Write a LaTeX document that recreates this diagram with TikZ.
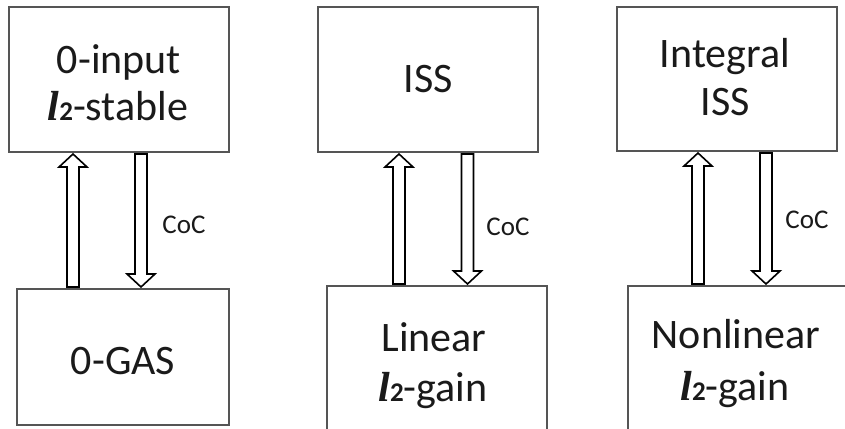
\documentclass[tikz,border=0pt]{standalone}
\usepackage{fontspec}
\setmainfont{Carlito}
\newfontfamily\lserif{Liberation Serif}
\usetikzlibrary{calc}
\definecolor{boxgray}{HTML}{555555}
\definecolor{txt}{HTML}{1A1A1A}
\newcommand\ltwo{{\lserif\bfseries\itshape l}{\fontsize{27}{27}\selectfont\bfseries 2}}
\newcommand\blockarrow[2]{%
  \draw[blockarr] let \p1=(#1), \p2=(#2), \p3=($(#2)!13pt!(#1)$) in
  (\x1-6pt,\y1) -- (\x1-6pt,\y3) -- (\x1-14pt,\y3) -- (\x1,\y2) --
  (\x1+14pt,\y3) -- (\x1+6pt,\y3) -- (\x1+6pt,\y1) -- cycle;}
\tikzset{
  box/.style={draw=boxgray, line width=2.7pt, inner sep=0pt, outer sep=0pt, fill=white},
  lbl/.style={anchor=base, inner sep=0pt, text=txt, font=\fontsize{42}{50}\selectfont},
  coc/.style={inner sep=0pt, text=txt, font=\fontsize{27}{30}\selectfont},
  blockarr/.style={draw=black, fill=white, line width=1.6pt, line join=miter}
}
\begin{document}
\begin{tikzpicture}[x=1pt, y=-1pt]
\clip (0,0) rectangle (845,428);
\fill[white] (0,0) rectangle (845,428);
% boxes
\node[box, minimum width=220pt, minimum height=145pt] (T1) at (119,79.5) {};
\node[box, minimum width=212pt, minimum height=136pt] (B1) at (123,357) {};
\node[box, minimum width=220pt, minimum height=145pt] (T2) at (428,79.5) {};
\node[box, minimum width=220pt, minimum height=154pt] (B2) at (437,363) {};
\node[box, minimum width=220pt, minimum height=144pt] (T3) at (727,79) {};
\node[box, minimum width=222pt, minimum height=154pt] (B3) at (739,363) {};
% texts
\node[lbl] (t1a) at (119,74) {0-input};
\node[lbl] (t1b) at (118,120) {\ltwo-stable};
\node[lbl] (b1a) at (123,374) {0-GAS};
\node[lbl] (t2a) at (428,92) {ISS};
\node[lbl] (b2a) at (434,351) {Linear};
\node[lbl] (b2b) at (433,401) {\ltwo-gain};
\node[lbl] (t3a) at (725,67) {Integral};
\node[lbl] (t3b) at (725,115) {ISS};
\node[lbl] (b3a) at (736,348) {Nonlinear};
\node[lbl] (b3b) at (735,400) {\ltwo-gain};
% arrow coordinates
\coordinate (u1s) at ([xshift=56pt,yshift=2pt]B1.north west);
\coordinate (u1e) at ([yshift=-2pt]u1s |- T1.south);
\coordinate (d1s) at ([xshift=132pt,yshift=-2pt]T1.south west);
\coordinate (d1e) at ([yshift=2pt]d1s |- B1.north);
\coordinate (u2s) at ([xshift=72pt,yshift=2pt]B2.north west);
\coordinate (u2e) at ([yshift=-2pt]u2s |- T2.south);
\coordinate (d2s) at ([xshift=149.5pt,yshift=-2pt]T2.south west);
\coordinate (d2e) at ([yshift=2pt]d2s |- B2.north);
\coordinate (u3s) at ([xshift=70pt,yshift=2pt]B3.north west);
\coordinate (u3e) at ([yshift=-2pt]u3s |- T3.south);
\coordinate (d3s) at ([xshift=149pt,yshift=-2pt]T3.south west);
\coordinate (d3e) at ([yshift=2pt]d3s |- B3.north);
\blockarrow{u1s}{u1e}
\blockarrow{d1s}{d1e}
\blockarrow{u2s}{u2e}
\blockarrow{d2s}{d2e}
\blockarrow{u3s}{u3e}
\blockarrow{d3s}{d3e}
% CoC labels
\node[coc] (c1) at (184,225) {CoC};
\node[coc] (c2) at (508,227) {CoC};
\node[coc] (c3) at (807,220) {CoC};
\end{tikzpicture}
\end{document}
